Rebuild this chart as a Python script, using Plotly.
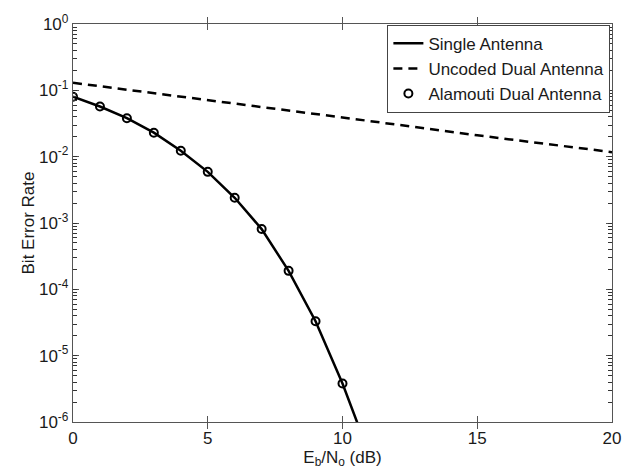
import plotly.graph_objects as go

ebno_single = [0, 1, 2, 3, 4, 5, 6, 7, 8, 9, 10, 11]
ber_single = [0.080, 0.057, 0.038, 0.023, 0.0123, 0.0059, 0.0024, 0.00081, 1.9e-4, 3.3e-5, 3.8e-6, 3.2e-7]

ebno_alamouti = [0, 1, 2, 3, 4, 5, 6, 7, 8, 9, 10]
ber_alamouti = [0.080, 0.057, 0.038, 0.023, 0.0123, 0.0059, 0.0024, 0.00081, 1.9e-4, 3.3e-5, 3.8e-6]

ebno_uncoded = [0, 5, 10, 15, 20]
ber_uncoded = [0.13, 0.072, 0.039, 0.021, 0.0117]

y_tickvals = [1, 1e-1, 1e-2, 1e-3, 1e-4, 1e-5, 1e-6]
y_ticktext = ["10<sup>0</sup>", "10<sup>-1</sup>", "10<sup>-2</sup>", "10<sup>-3</sup>",
              "10<sup>-4</sup>", "10<sup>-5</sup>", "10<sup>-6</sup>"]
x_tickvals = [0, 5, 10, 15, 20]

font = "Liberation Sans, Arial, Helvetica, sans-serif"
txt = "#1a1a1a"

fig = go.Figure()
# invisible helper trace so the minor-tick overlay axis is drawn
fig.add_trace(go.Scatter(x=ebno_uncoded, y=ber_uncoded, yaxis="y2", mode="lines",
                         line=dict(width=0, color="rgba(0,0,0,0)"), showlegend=False, hoverinfo="skip"))
fig.add_trace(go.Scatter(x=ebno_single, y=ber_single, mode="lines", name="Single Antenna",
                         line=dict(color="black", width=2.5)))
fig.add_trace(go.Scatter(x=ebno_uncoded, y=ber_uncoded, mode="lines", name="Uncoded Dual Antenna",
                         line=dict(color="black", width=2.5, dash="9px,6px")))
fig.add_trace(go.Scatter(x=ebno_alamouti, y=ber_alamouti, mode="markers", name="Alamouti Dual Antenna",
                         marker=dict(symbol="circle-open", size=8, color="black", line=dict(width=2, color="black"))))

axis_common = dict(showgrid=False, zeroline=False, showline=True, linecolor="#555", linewidth=1.3,
                   mirror="allticks", ticks="inside", tickcolor="#555", tickwidth=1,
                   tickfont=dict(family=font, size=17, color=txt))

fig.update_xaxes(range=[0, 20], tickvals=x_tickvals, ticklen=6,
                 title=dict(text="E<sub>b</sub>/N<sub>o</sub> (dB)", font=dict(family=font, size=17, color=txt), standoff=0),
                 **axis_common)
fig.update_yaxes(type="log", range=[-6, 0], ticklen=6,
                 tickmode="array", tickvals=y_tickvals, ticktext=y_ticktext,
                 title=dict(text="Bit Error Rate", font=dict(family=font, size=17, color=txt), standoff=0),
                 **axis_common)

fig.update_layout(
    width=634, height=475,
    margin=dict(l=73, r=22, t=19, b=53),
    plot_bgcolor="white", paper_bgcolor="white",
    font=dict(family=font, color=txt),
    yaxis2=dict(type="log", range=[-6, 0], overlaying="y", side="left",
                tickmode="linear", dtick="D1", ticks="inside", ticklen=4, tickcolor="#333", tickwidth=1,
                showticklabels=False, showgrid=False, zeroline=False, showline=True,
                linecolor="#555", linewidth=1.3, mirror="allticks"),
    legend=dict(x=0.997, y=0.998, xanchor="right", yanchor="top",
                bgcolor="white", bordercolor="#444", borderwidth=1,
                font=dict(family=font, size=17, color=txt),
                tracegroupgap=0, itemwidth=30),
    showlegend=True,
)

fig.write_html("out.html")
